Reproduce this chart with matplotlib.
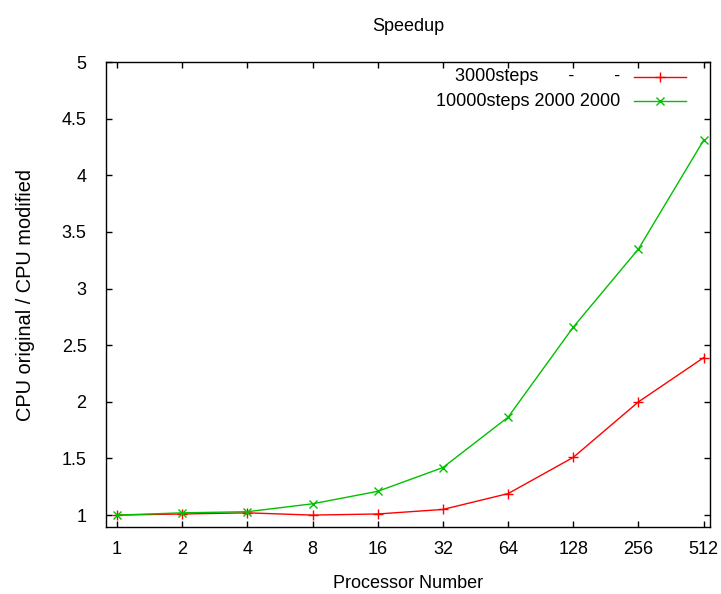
import matplotlib
matplotlib.use('Agg')
import matplotlib.pyplot as plt
import numpy as np

plt.rcParams['font.family'] = ['Liberation Sans', 'DejaVu Sans']
plt.rcParams['font.size'] = 13

# プロセッサ数（log2スケールで等間隔に並べる）
procs = [1, 2, 4, 8, 16, 32, 64, 128, 256, 512]
speedup_3000 = [1.0, 1.01, 1.02, 1.0, 1.01, 1.05, 1.19, 1.51, 2.0, 2.39]
speedup_10000 = [1.0, 1.02, 1.03, 1.1, 1.21, 1.42, 1.865, 2.66, 3.35, 4.31]
label_3000 = '3000steps      -        -'
label_10000 = '10000steps 2000 2000'

RED = '#ff0000'
GREEN = '#00c000'

fig = plt.figure(figsize=(7.21, 5.94), dpi=100)
ax = fig.add_axes([0.147, 0.1128, 0.838, 0.7828])

xpos = np.log2(procs)
ax.plot(xpos, speedup_3000, color=RED, lw=1.0, marker='+', ms=7, mew=1.0)
ax.plot(xpos, speedup_10000, color=GREEN, lw=1.0, marker='x', ms=6, mew=1.0)

ax.set_xlim(-0.17, 9.1)
ax.set_ylim(0.895, 5.0)
ax.set_xticks(xpos)
ax.set_xticklabels([str(p) for p in procs])
ax.set_yticks(np.arange(1.0, 5.01, 0.5))
ax.set_yticklabels(['1', '1.5', '2', '2.5', '3', '3.5', '4', '4.5', '5'])

# gnuplot風の内向き目盛り（上下左右）
ax.tick_params(direction='in', length=4, width=1.0, top=True, right=True,
               labelsize=13, pad=10, colors='black')
ax.tick_params(axis='y', pad=14)
for sp in ax.spines.values():
    sp.set_linewidth(1.0)

ax.set_title('Speedup', fontsize=13, pad=22)
ax.set_xlabel('Processor Number', fontsize=13, labelpad=12)
ax.set_ylabel('CPU original / CPU modified', fontsize=14.4, labelpad=19)

# 凡例（枠なし、テキスト右寄せ）
entries = [(label_3000, RED, '+', 7), (label_10000, GREEN, 'x', 6)]
for i, (txt, col, mk, ms) in enumerate(entries):
    yy = 0.968 - i * 0.052
    ax.text(0.851, yy, txt, transform=ax.transAxes, ha='right', va='center',
            fontsize=13)
    ax.plot([0.874, 0.960], [yy, yy], transform=ax.transAxes, color=col, lw=1.0)
    ax.plot([0.917], [yy], transform=ax.transAxes, color=col, marker=mk,
            ms=ms, mew=1.0)

fig.savefig('out.png', dpi=100)
